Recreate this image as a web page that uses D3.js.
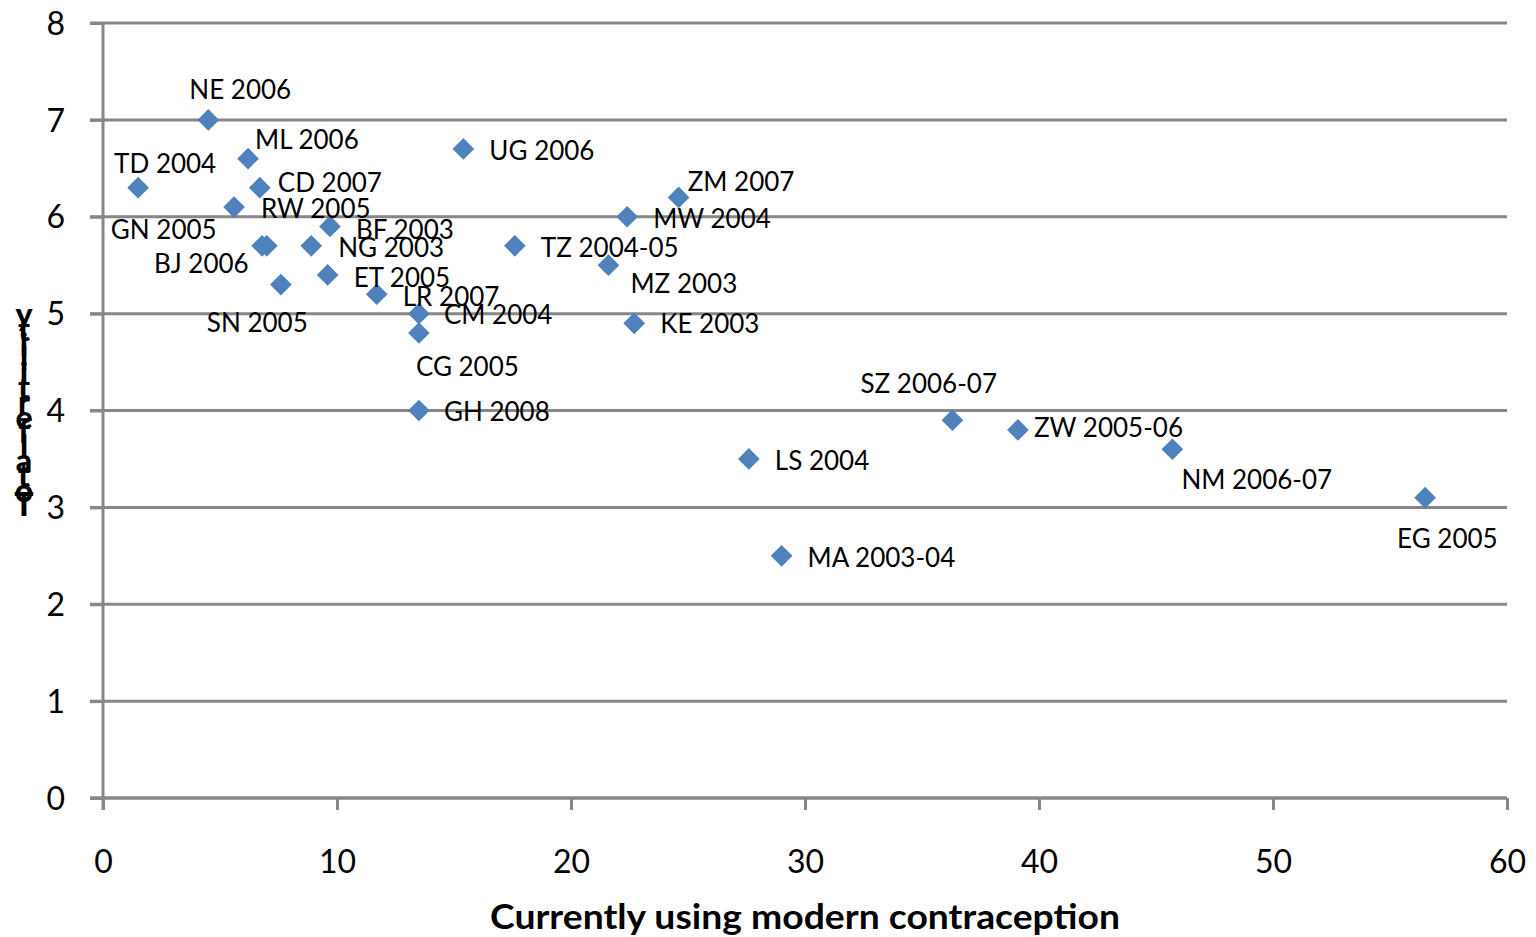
<!DOCTYPE html>
<html>
<head>
<meta charset="utf-8">
<script src="https://cdn.jsdelivr.net/npm/d3@7"></script>
<style>
    body { margin: 0; background: #fff; }
    text { font-family: Lato, "Open Sans", sans-serif; fill: #000; }
</style>
</head>
<body>
<div id="chart"></div>
<script>
// survey labels, modern contraception use (%), total fertility rate
const surveys = ["TD 2004", "NE 2006", "ML 2006", "CD 2007", "RW 2005", "GN 2005", "BJ 2006",
    "BF 2003", "NG 2003", "SN 2005", "ET 2005", "LR 2007", "CM 2004", "CG 2005", "GH 2008",
    "UG 2006", "TZ 2004-05", "MW 2004", "ZM 2007", "MZ 2003", "KE 2003", "LS 2004",
    "MA 2003-04", "SZ 2006-07", "ZW 2005-06", "NM 2006-07", "EG 2005"];
const modernUse = [1.5, 4.5, 6.2, 6.7, 5.6, 7.0, 6.8,
    9.7, 8.9, 7.6, 9.6, 11.7, 13.5, 13.5, 13.5,
    15.4, 17.6, 22.4, 24.6, 21.6, 22.7, 27.6,
    29.0, 36.3, 39.1, 45.7, 56.5];
const fertility = [6.3, 7.0, 6.6, 6.3, 6.1, 5.7, 5.7,
    5.9, 5.7, 5.3, 5.4, 5.2, 5.0, 4.8, 4.0,
    6.7, 5.7, 6.0, 6.2, 5.5, 4.9, 3.5,
    2.5, 3.9, 3.8, 3.6, 3.1];
const xTicks = [0, 10, 20, 30, 40, 50, 60];
const yTicks = [0, 1, 2, 3, 4, 5, 6, 7, 8];
const xTitle = "Currently using modern contraception";
const yTitle = "Total fertility";

// where each data label sits relative to its marker (px), as placed in the original
const labelNudge = {
    "TD 2004": [-24, -24], "NE 2006": [-19, -30], "ML 2006": [7, -19], "CD 2007": [18, -5],
    "RW 2005": [27, 2], "GN 2005": [-156, -16], "BJ 2006": [-108, 18], "BF 2003": [26, 3],
    "NG 2003": [27, 2], "SN 2005": [-74, 38], "ET 2005": [26, 3], "LR 2007": [26, 3],
    "CM 2004": [25, 1], "CG 2005": [-3, 34], "GH 2008": [25, 1], "UG 2006": [26, 2],
    "TZ 2004-05": [26, 2], "MW 2004": [26, 2], "ZM 2007": [9, -15], "MZ 2003": [22, 19],
    "KE 2003": [26, 1], "LS 2004": [26, 2], "MA 2003-04": [26, 2], "SZ 2006-07": [-92, -36],
    "ZW 2005-06": [16, -2], "NM 2006-07": [9, 31], "EG 2005": [-28, 41]
};

const data = surveys.map((s, i) => ({ label: s, x: modernUse[i], y: fertility[i] }));

const margin = { top: 23, right: 29, bottom: 139, left: 103 };
const width = 1536 - margin.left - margin.right;
const height = 937 - margin.top - margin.bottom;
const gridColor = "#878787";

const svg = d3.select("#chart").append("svg")
    .attr("width", 1536)
    .attr("height", 937)
    .append("g")
    .attr("transform", "translate(" + margin.left + "," + margin.top + ")");

const x = d3.scaleLinear().domain([0, 60]).range([0, width]);
const y = d3.scaleLinear().domain([0, 8]).range([height, 0]);

// horizontal gridlines (they also run through the tick marks on the left)
svg.append("g").selectAll("line")
    .data(yTicks)
    .enter().append("line")
    .attr("x1", -13)
    .attr("x2", width)
    .attr("y1", d => y(d))
    .attr("y2", d => y(d))
    .attr("stroke", gridColor)
    .attr("stroke-width", 3);

const yAxis = svg.append("g")
    .call(d3.axisLeft(y).tickValues(yTicks).tickSize(13).tickPadding(25));
const xAxis = svg.append("g")
    .attr("transform", "translate(0," + height + ")")
    .call(d3.axisBottom(x).tickValues(xTicks).tickSize(12));

[yAxis, xAxis].forEach(a => {
    a.select(".domain").attr("stroke", gridColor).attr("stroke-width", 3);
    a.selectAll(".tick line").attr("stroke", gridColor).attr("stroke-width", 3);
    a.selectAll(".tick text")
        .style("font-family", "Lato, sans-serif")
        .style("font-size", "32px")
        .attr("fill", "#000");
});
// y domain line also drops to the x tick length
yAxis.select(".domain").attr("d", "M0,0V" + (height + 12));
xAxis.select(".domain").attr("d", "M-13,0H" + width);
xAxis.selectAll(".tick text").attr("y", 64).attr("dy", "0.35em");
yAxis.selectAll(".tick text").attr("dy", "0.35em");

// markers
const diamond = d3.symbol().type(d3.symbolSquare).size(235);
svg.append("g").selectAll("path")
    .data(data)
    .enter().append("path")
    .attr("d", diamond)
    .attr("transform", d => "translate(" + x(d.x) + "," + y(d.y) + ") rotate(45)")
    .attr("fill", "#4F81BD");

// data labels
svg.append("g").selectAll("text")
    .data(data)
    .enter().append("text")
    .attr("x", d => x(d.x) + labelNudge[d.label][0])
    .attr("y", d => y(d.y) + labelNudge[d.label][1])
    .attr("dy", "0.35em")
    .style("font-size", "26px")
    .text(d => d.label);

// x axis title
svg.append("text")
    .attr("x", 805 - margin.left)
    .attr("y", 917 - margin.top)
    .attr("dy", "0.35em")
    .attr("text-anchor", "middle")
    .attr("textLength", 630)
    .attr("lengthAdjust", "spacingAndGlyphs")
    .style("font-size", "34px")
    .style("font-weight", "bold")
    .text(xTitle);

// y axis title, letters stacked bottom-up and squeezed like the original
const letters = yTitle.replace(" ", "").split("");
svg.append("g").selectAll("text")
    .data(letters)
    .enter().append("text")
    .attr("x", 24 - margin.left)
    .attr("y", (d, i) => 505 - margin.top - i * 14.6)
    .attr("dy", "0.35em")
    .attr("text-anchor", "middle")
    .style("font-size", "32px")
    .style("font-weight", "900")
    .text(d => d);
</script>
</body>
</html>
